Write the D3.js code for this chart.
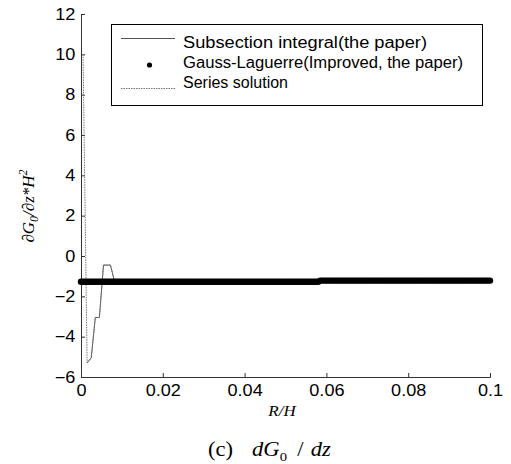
<!DOCTYPE html>
<html>
<head>
<meta charset="utf-8">
<script src="https://cdn.jsdelivr.net/npm/d3@7"></script>
<style>
  body { margin: 0; background: #fff; }
  svg { display: block; }
</style>
</head>
<body>
<div id="chart"></div>
<script>
// dG0/dz comparison, three solutions

// x ticks / y ticks
const xTicks = [0, 0.02, 0.04, 0.06, 0.08, 0.1];
const yTicks = [-6, -4, -2, 0, 2, 4, 6, 8, 10, 12];

// Subsection integral (the paper)
const subX = [0.0015, 0.0025, 0.0035, 0.0045, 0.0055, 0.0072, 0.0082, 0.1];
const subY = [-5.3, -5.05, -3.05, -3.05, -0.45, -0.45, -1.26, -1.24];

// Series solution
const serX = [0.0005, 0.0015, 0.0025, 0.0035, 0.0045, 0.0055, 0.0072, 0.0082, 0.1];
const serY = [10.0, -5.3, -5.05, -3.05, -3.05, -0.45, -0.45, -1.26, -1.24];

// Gauss-Laguerre (improved, the paper)
const gaussX = [
  0.0000, 0.0005, 0.0010, 0.0015, 0.0020, 0.0025, 0.0030, 0.0035, 0.0040, 0.0045,
  0.0050, 0.0055, 0.0060, 0.0065, 0.0070, 0.0075, 0.0080, 0.0085, 0.0090, 0.0095,
  0.0100, 0.0105, 0.0110, 0.0115, 0.0120, 0.0125, 0.0130, 0.0135, 0.0140, 0.0145,
  0.0150, 0.0155, 0.0160, 0.0165, 0.0170, 0.0175, 0.0180, 0.0185, 0.0190, 0.0195,
  0.0200, 0.0205, 0.0210, 0.0215, 0.0220, 0.0225, 0.0230, 0.0235, 0.0240, 0.0245,
  0.0250, 0.0255, 0.0260, 0.0265, 0.0270, 0.0275, 0.0280, 0.0285, 0.0290, 0.0295,
  0.0300, 0.0305, 0.0310, 0.0315, 0.0320, 0.0325, 0.0330, 0.0335, 0.0340, 0.0345,
  0.0350, 0.0355, 0.0360, 0.0365, 0.0370, 0.0375, 0.0380, 0.0385, 0.0390, 0.0395,
  0.0400, 0.0405, 0.0410, 0.0415, 0.0420, 0.0425, 0.0430, 0.0435, 0.0440, 0.0445,
  0.0450, 0.0455, 0.0460, 0.0465, 0.0470, 0.0475, 0.0480, 0.0485, 0.0490, 0.0495,
  0.0500, 0.0505, 0.0510, 0.0515, 0.0520, 0.0525, 0.0530, 0.0535, 0.0540, 0.0545,
  0.0550, 0.0555, 0.0560, 0.0565, 0.0570, 0.0575, 0.0580, 0.0585, 0.0590, 0.0595,
  0.0600, 0.0605, 0.0610, 0.0615, 0.0620, 0.0625, 0.0630, 0.0635, 0.0640, 0.0645,
  0.0650, 0.0655, 0.0660, 0.0665, 0.0670, 0.0675, 0.0680, 0.0685, 0.0690, 0.0695,
  0.0700, 0.0705, 0.0710, 0.0715, 0.0720, 0.0725, 0.0730, 0.0735, 0.0740, 0.0745,
  0.0750, 0.0755, 0.0760, 0.0765, 0.0770, 0.0775, 0.0780, 0.0785, 0.0790, 0.0795,
  0.0800, 0.0805, 0.0810, 0.0815, 0.0820, 0.0825, 0.0830, 0.0835, 0.0840, 0.0845,
  0.0850, 0.0855, 0.0860, 0.0865, 0.0870, 0.0875, 0.0880, 0.0885, 0.0890, 0.0895,
  0.0900, 0.0905, 0.0910, 0.0915, 0.0920, 0.0925, 0.0930, 0.0935, 0.0940, 0.0945,
  0.0950, 0.0955, 0.0960, 0.0965, 0.0970, 0.0975, 0.0980, 0.0985, 0.0990, 0.0995,
  0.1000
];
const gaussY = [
  -1.28, -1.28, -1.28, -1.28, -1.28, -1.28, -1.28, -1.28, -1.28, -1.28,
  -1.28, -1.28, -1.28, -1.28, -1.28, -1.28, -1.28, -1.28, -1.28, -1.28,
  -1.28, -1.28, -1.28, -1.28, -1.28, -1.28, -1.28, -1.28, -1.28, -1.28,
  -1.28, -1.28, -1.28, -1.28, -1.28, -1.28, -1.28, -1.28, -1.28, -1.28,
  -1.28, -1.28, -1.28, -1.28, -1.28, -1.28, -1.28, -1.28, -1.28, -1.28,
  -1.28, -1.28, -1.28, -1.28, -1.28, -1.28, -1.28, -1.28, -1.28, -1.28,
  -1.28, -1.28, -1.28, -1.28, -1.28, -1.28, -1.28, -1.28, -1.28, -1.28,
  -1.28, -1.28, -1.28, -1.28, -1.28, -1.28, -1.28, -1.28, -1.28, -1.28,
  -1.28, -1.28, -1.28, -1.28, -1.28, -1.28, -1.28, -1.28, -1.28, -1.28,
  -1.28, -1.28, -1.28, -1.28, -1.28, -1.28, -1.28, -1.28, -1.28, -1.28,
  -1.28, -1.28, -1.28, -1.28, -1.28, -1.28, -1.28, -1.28, -1.28, -1.28,
  -1.28, -1.28, -1.28, -1.28, -1.28, -1.28, -1.28, -1.22, -1.22, -1.22,
  -1.22, -1.22, -1.22, -1.22, -1.22, -1.22, -1.22, -1.22, -1.22, -1.22,
  -1.22, -1.22, -1.22, -1.22, -1.22, -1.22, -1.22, -1.22, -1.22, -1.22,
  -1.22, -1.22, -1.22, -1.22, -1.22, -1.22, -1.22, -1.22, -1.22, -1.22,
  -1.22, -1.22, -1.22, -1.22, -1.22, -1.22, -1.22, -1.22, -1.22, -1.22,
  -1.22, -1.22, -1.22, -1.22, -1.22, -1.22, -1.22, -1.22, -1.22, -1.22,
  -1.22, -1.22, -1.22, -1.22, -1.22, -1.22, -1.22, -1.22, -1.22, -1.22,
  -1.22, -1.22, -1.22, -1.22, -1.22, -1.22, -1.22, -1.22, -1.22, -1.22,
  -1.22, -1.22, -1.22, -1.22, -1.22, -1.22, -1.22, -1.22, -1.22, -1.22,
  -1.22
];

const legendLabels = [
  'Subsection integral(the paper)',
  'Gauss-Laguerre(Improved, the paper)',
  'Series solution'
];
const legendWidths = [244, 280, 105];

const width = 511, height = 464;
const margin = { left: 81, right: 21, top: 14, bottom: 87 };
const axisColor = '#333';
const tickFont = '"Liberation Sans", Arial, sans-serif';
const serif = '"Liberation Serif", "Times New Roman", serif';
const stretch = 1.13; // the source figure is a bit wider than tall

const svg = d3.select('#chart').append('svg')
  .attr('width', width)
  .attr('height', height);

svg.append('rect').attr('width', width).attr('height', height).attr('fill', '#fff');

const x = d3.scaleLinear().domain([0, 0.1]).range([margin.left, width - margin.right]);
const y = d3.scaleLinear().domain([-6, 12]).range([height - margin.bottom, margin.top]);

// axes (ticks pointing inward, no box)
const xAxis = d3.axisBottom(x).tickValues(xTicks).tickSize(-4).tickPadding(8)
  .tickFormat(d => d === 0 ? '0' : d3.format('~g')(d));
const gx = svg.append('g')
  .attr('transform', `translate(0,${y(-6)})`)
  .call(xAxis);

const yAxis = d3.axisLeft(y).tickValues(yTicks).tickSize(-4).tickPadding(5)
  .tickFormat(d3.format('d'));
const gy = svg.append('g')
  .attr('transform', `translate(${x(0)},0)`)
  .call(yAxis);

[gx, gy].forEach(g => {
  g.select('.domain').attr('stroke', axisColor);
  g.selectAll('.tick line').attr('stroke', axisColor);
  g.selectAll('.tick text')
    .attr('fill', '#000')
    .attr('transform', `scale(${stretch},1)`)
    .style('font-family', tickFont)
    .style('font-size', '16px');
});

// curves
const line = d3.line().x(d => x(d[0])).y(d => y(d[1]));

svg.append('path')
  .datum(d3.zip(serX, serY))
  .attr('d', line)
  .attr('fill', 'none')
  .attr('stroke', '#777')
  .attr('stroke-width', 1)
  .attr('stroke-dasharray', '1.5,1');

svg.append('path')
  .datum(d3.zip(subX, subY))
  .attr('d', line)
  .attr('fill', 'none')
  .attr('stroke', '#666')
  .attr('stroke-width', 1);

svg.append('g')
  .selectAll('circle')
  .data(d3.zip(gaussX, gaussY))
  .enter()
  .append('circle')
  .attr('cx', d => x(d[0]))
  .attr('cy', d => y(d[1]))
  .attr('r', 3.2)
  .attr('fill', '#000');

// legend
const lg = svg.append('g');
lg.append('rect')
  .attr('x', 111.5).attr('y', 24.5)
  .attr('width', 371).attr('height', 81)
  .attr('fill', '#fff')
  .attr('stroke', '#000')
  .attr('stroke-width', 1);

const markerY = [38.5, 65, 88.5];
const textY = [42, 62, 82];

lg.append('line')
  .attr('x1', 121).attr('x2', 175).attr('y1', markerY[0]).attr('y2', markerY[0])
  .attr('stroke', '#555').attr('stroke-width', 1);
lg.append('circle')
  .attr('cx', 149.5).attr('cy', markerY[1]).attr('r', 2.6).attr('fill', '#000');
lg.append('line')
  .attr('x1', 121).attr('x2', 175).attr('y1', markerY[2]).attr('y2', markerY[2])
  .attr('stroke', '#777').attr('stroke-width', 1).attr('stroke-dasharray', '1.5,1');

lg.selectAll('text.lbl')
  .data(legendLabels)
  .enter()
  .append('text')
  .attr('class', 'lbl')
  .attr('x', 183)
  .attr('y', (d, i) => textY[i])
  .attr('dy', '0.35em')
  .attr('textLength', (d, i) => legendWidths[i])
  .attr('lengthAdjust', 'spacingAndGlyphs')
  .style('font-family', tickFont)
  .style('font-size', '16px')
  .text(d => d);

// y label: dG0/dz*H^2
const yl = svg.append('text')
  .attr('transform', 'translate(34,206) rotate(-90)')
  .attr('text-anchor', 'middle')
  .style('font-family', serif)
  .style('font-style', 'italic')
  .style('font-size', '17px');
yl.append('tspan').text('\u2202G');
yl.append('tspan').attr('dy', 4).style('font-size', '12px').text('0');
yl.append('tspan').attr('dy', -4).text('/\u2202z*H');
yl.append('tspan').attr('dy', -7).style('font-size', '12px').text('2');

// x label
svg.append('text')
  .attr('transform', `translate(282,416) scale(${stretch},1)`)
  .attr('text-anchor', 'middle')
  .style('font-family', serif)
  .style('font-style', 'italic')
  .style('font-size', '15px')
  .text('R/H');

// caption
const cap = svg.append('text')
  .attr('transform', `translate(208,456) scale(${stretch},1)`)
  .style('font-family', serif)
  .style('font-size', '20px');
cap.append('tspan').attr('x', 0).text('(c)');
cap.append('tspan').attr('x', 39).style('font-style', 'italic').text('dG');
cap.append('tspan').attr('dy', 5).style('font-size', '13px').text('0');
cap.append('tspan').attr('x', 79).attr('dy', -5).text('/');
cap.append('tspan').attr('x', 91).style('font-style', 'italic').text('dz');
</script>
</body>
</html>
